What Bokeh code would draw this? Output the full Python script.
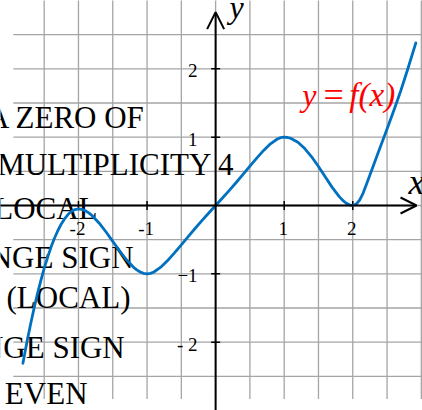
from bokeh.plotting import figure
from bokeh.models import Range1d, Arrow, OpenHead, ColumnDataSource
from bokeh.core.properties import value
from bokeh.embed import file_html
from bokeh.resources import INLINE
import numpy as np

# sampled points of the curve y = f(x)
curve_x = [-2.81, -2.75, -2.70, -2.65, -2.60, -2.55, -2.50, -2.45, -2.40, -2.35,
           -2.30, -2.25, -2.20, -2.15, -2.10, -2.05, -2.00,
           -1.95, -1.90, -1.85, -1.80, -1.70, -1.60, -1.50, -1.40, -1.30,
           -1.20, -1.15, -1.10, -1.05, -1.00,
           -0.95, -0.90, -0.80, -0.70, -0.60, -0.50, -0.40, -0.30, -0.20, -0.10,
           0.00, 0.10, 0.20, 0.30, 0.40, 0.50, 0.60, 0.70, 0.80, 0.90, 0.95, 1.00,
           1.05, 1.10, 1.20, 1.30, 1.40, 1.50, 1.60, 1.70, 1.80, 1.85, 1.90, 1.95,
           2.00, 2.05, 2.10, 2.15, 2.20, 2.25, 2.30, 2.35, 2.40, 2.50, 2.60, 2.70,
           2.80, 2.92]
curve_y = [-2.310, -1.990, -1.744, -1.514, -1.299, -1.102, -0.921, -0.757, -0.609, -0.479,
           -0.366, -0.270, -0.191, -0.129, -0.085, -0.059, -0.050,
           -0.057, -0.077, -0.108, -0.149, -0.255, -0.384, -0.525, -0.666, -0.795,
           -0.901, -0.942, -0.973, -0.993, -1.000,
           -0.993, -0.973, -0.903, -0.806, -0.694, -0.575, -0.455, -0.337, -0.222, -0.110,
           0.000, 0.110, 0.222, 0.337, 0.455, 0.575, 0.694, 0.806, 0.903, 0.973, 0.993, 1.000,
           0.995, 0.981, 0.925, 0.833, 0.713, 0.570, 0.417, 0.265, 0.133, 0.079, 0.037, 0.010,
           0.000, 0.020, 0.079, 0.179, 0.310, 0.446, 0.581, 0.716, 0.851, 1.120, 1.395, 1.680,
           1.990, 2.380]

x_ticks = [-2, -1, 1, 2]
x_tick_labels = ["-2", "-1", "1", "2"]
y_ticks = [-2, -1, 1, 2]
y_tick_labels = ["- 2", "\u22121", "1", "2"]

note_lines = ["A ZERO OF", "MULTIPLICITY 4", "LOCAL", "CHANGE SIGN",
              "(LOCAL)", "CHANGE  SIGN", "EVEN"]

SERIF = value("'Liberation Serif', 'DejaVu Serif', serif")

p = figure(width=422, height=410, output_backend="svg", toolbar_location=None,
           x_range=Range1d(-3.137, 3.017), y_range=Range1d(-3.0, 3.0),
           min_border=0)
p.axis.visible = False
p.grid.visible = False
p.outline_line_color = None
p.background_fill_color = "white"
p.border_fill_color = "white"

# square grid every half unit
gx = np.arange(-2.5, 3.01, 0.5)
p.segment(x0=gx, y0=-2.83, x1=gx, y1=3.1, line_color="#a5a5a5", line_width=1.3)
gy = np.arange(-2.5, 2.51, 0.5)
p.segment(x0=-2.95, y0=gy, x1=3.2, y1=gy, line_color="#a5a5a5", line_width=1.3)

# notes written over the left side of the graph (right edge, vertical middle)
note_right = [-1.022, 0.276, -1.722, -1.197, -1.241, -1.212, -1.868]
note_mid = [1.281, 0.593, -0.037, -0.754, -1.340, -2.072, -2.745]
p.text(x=note_right, y=note_mid, text=note_lines, text_font=SERIF,
       text_font_size="31px", text_color="black", text_align="right",
       text_baseline="middle")

# axes with open arrow heads
p.add_layout(Arrow(end=OpenHead(size=16, line_width=2, line_color="black"),
                   x_start=-3.3, y_start=0, x_end=2.93, y_end=0,
                   line_width=2, line_color="black"))
p.add_layout(Arrow(end=OpenHead(size=17, line_width=2, line_color="black"),
                   x_start=0, y_start=-3.1, x_end=0, y_end=2.83,
                   line_width=2, line_color="black"))

# tick marks
p.scatter(x=x_ticks, y=[0] * len(x_ticks), marker="dash", angle=np.pi / 2,
          size=9, line_color="black", line_width=1.5)
p.scatter(x=[0] * len(y_ticks), y=y_ticks, marker="dash",
          size=9, line_color="black", line_width=1.5)

# tick labels
p.text(x=x_ticks, y=[0] * len(x_ticks), text=x_tick_labels, text_font=SERIF,
       text_font_size="19px", text_align="center", text_baseline="middle",
       x_offset=-1, y_offset=23, text_color="black")
p.text(x=[0] * len(y_ticks), y=y_ticks, text=y_tick_labels, text_font=SERIF,
       text_font_size="19px", text_align="right", text_baseline="middle",
       x_offset=-18, y_offset=2, text_color="black")

# axis names
p.text(x=[0.203], y=[2.90], text=["y"], text_font=SERIF, text_font_size="32px",
       text_font_style="italic", text_baseline="middle", text_color="black")
p.text(x=[2.813], y=[0.351], text=["x"], text_font=SERIF, text_font_size="36px",
       text_font_style="italic", text_baseline="middle", text_color="black")

# the curve
src = ColumnDataSource(dict(x=curve_x, y=curve_y))
p.line("x", "y", source=src, line_color="#0070c0", line_width=2.8,
       line_join="round", line_cap="round")

# curve name
p.text(x=[1.262], y=[1.61], text=["y"], text_font=SERIF, text_font_size="32px",
       text_font_style="italic", text_color="red", text_baseline="middle")
p.text(x=[1.575], y=[1.61], text=["="], text_font=SERIF, text_font_size="36px",
       text_color="red", text_baseline="middle")
p.text(x=[1.95], y=[1.61], text=["f(x)"], text_font=SERIF, text_font_size="33px",
       text_font_style="italic", text_color="red", text_baseline="middle")

open("out.html", "w").write(file_html(p, INLINE))
